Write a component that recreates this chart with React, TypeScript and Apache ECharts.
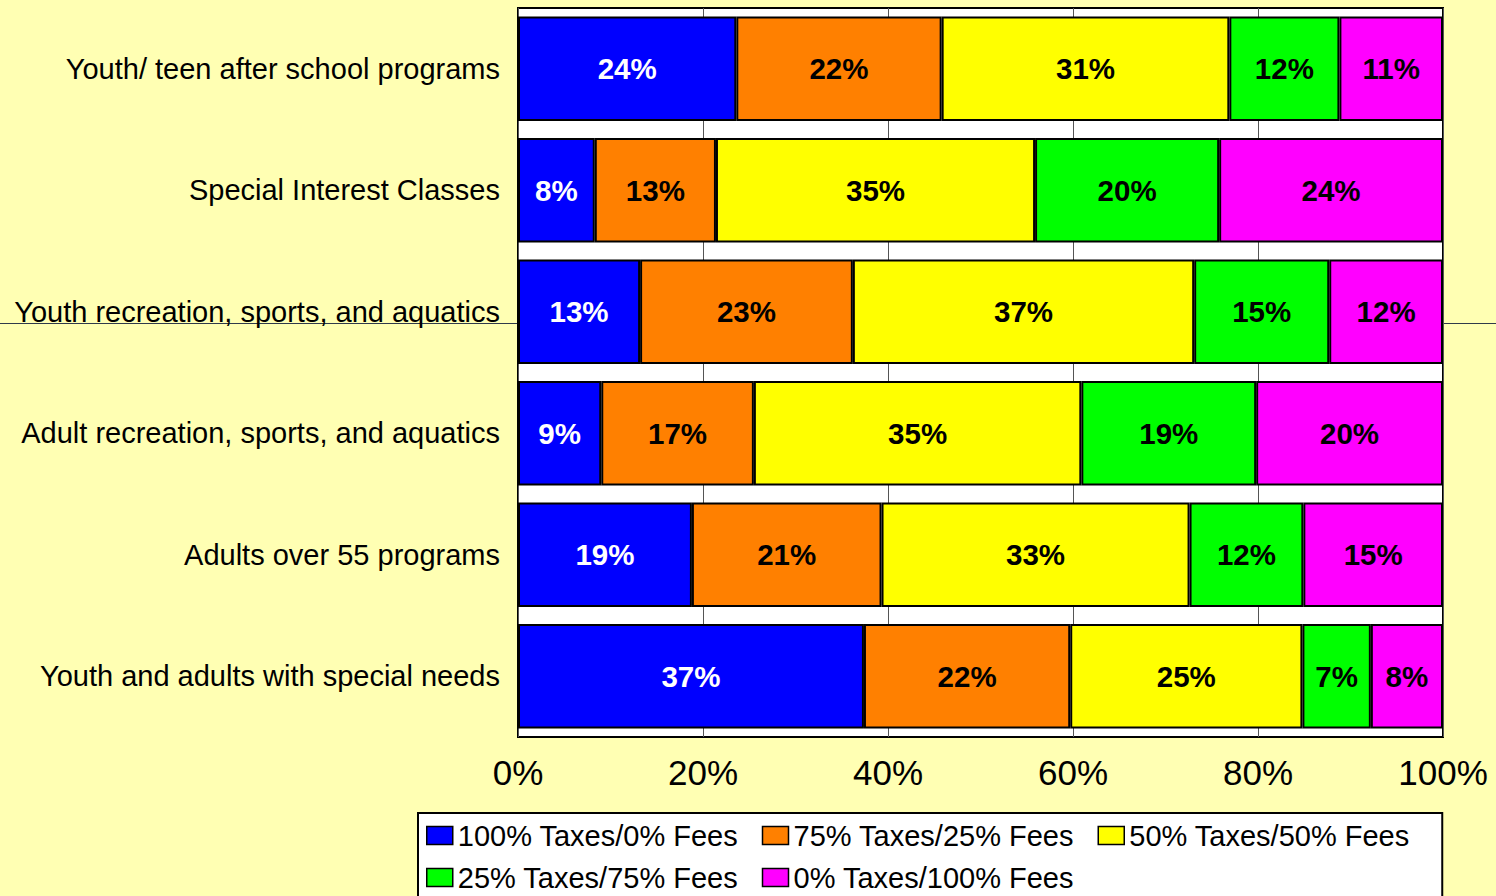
import React, { useEffect, useRef } from "react";
import * as echarts from "echarts";

const categories = [
  "Youth/ teen after school programs",
  "Special Interest Classes",
  "Youth recreation, sports, and aquatics",
  "Adult recreation, sports, and aquatics",
  "Adults over 55 programs",
  "Youth and adults with special needs",
];

const seriesNames = [
  "100% Taxes/0% Fees",
  "75% Taxes/25% Fees",
  "50% Taxes/50% Fees",
  "25% Taxes/75% Fees",
  "0% Taxes/100% Fees",
];

const taxes100 = [23.6, 8.3, 13.2, 9.0, 18.8, 37.4];
const taxes75 = [22.2, 13.1, 23.0, 16.5, 20.5, 22.3];
const taxes50 = [31.1, 34.5, 36.9, 35.4, 33.3, 25.1];
const taxes25 = [11.9, 19.9, 14.6, 18.9, 12.3, 7.4];
const taxes0 = [11.2, 24.2, 12.3, 20.2, 15.1, 7.8];

const colors = ["#0000FF", "#FF8000", "#FFFF00", "#00FF00", "#FF00FF"];
const labelColors = ["#FFFFFF", "#000000", "#000000", "#000000", "#000000"];

const xTicks = [0, 20, 40, 60, 80, 100];

export default function App() {
  const ref = useRef<HTMLDivElement>(null);
  useEffect(() => {
    if (!ref.current) return;
    const chart = echarts.init(ref.current, null, { renderer: "svg" });
    const allData = [taxes100, taxes75, taxes50, taxes25, taxes0];
    chart.setOption({
      animation: false,
      backgroundColor: "#FFFFB3",
      textStyle: { fontFamily: "Liberation Sans, Arial, sans-serif" },
      grid: {
        left: 518,
        right: 53,
        top: 8,
        bottom: 159,
        show: true,
        backgroundColor: "#FFFFFF",
        borderColor: "#000000",
        borderWidth: 2,
        containLabel: false,
      },
      graphic: [
        {
          type: "line",
          shape: { x1: 0, y1: 323.5, x2: 517, y2: 323.5 },
          style: { stroke: "#2F3A4A", lineWidth: 1 },
          z: -1,
        },
        {
          type: "line",
          shape: { x1: 1444, y1: 323.5, x2: 1496, y2: 323.5 },
          style: { stroke: "#2F3A4A", lineWidth: 1 },
          z: -1,
        },
      ],
      xAxis: {
        type: "value",
        min: xTicks[0],
        max: xTicks[xTicks.length - 1],
        interval: 20,
        axisLine: { show: false },
        axisTick: { show: false },
        splitLine: { show: true, lineStyle: { color: "#555555", width: 1 } },
        axisLabel: {
          formatter: (v: number) => v + "%",
          fontSize: 35,
          color: "#000000",
          margin: 18,
          fontFamily: "Liberation Sans, Arial, sans-serif",
        },
      },
      yAxis: {
        type: "category",
        data: categories,
        inverse: true,
        axisLine: { show: false },
        axisTick: { show: false },
        axisLabel: {
          fontSize: 29,
          color: "#000000",
          margin: 18,
          fontFamily: "Liberation Sans, Arial, sans-serif",
        },
      },
      legend: {
        data: seriesNames,
        orient: "horizontal",
        left: 418,
        top: 813,
        width: 1020,
        itemWidth: 26,
        itemHeight: 18,
        itemGap: 5,
        padding: [4, 14, 40, 8],
        backgroundColor: "#FFFFFF",
        borderColor: "#000000",
        borderWidth: 2,
        borderRadius: 0,
        icon: "rect",
        itemStyle: { borderColor: "#000000", borderWidth: 1.5 },
        textStyle: {
          fontSize: 29,
          color: "#000000",
          width: 299,
          lineHeight: 37,
          fontFamily: "Liberation Sans, Arial, sans-serif",
        },
      },
      series: seriesNames.map((name, i) => ({
        name,
        type: "bar",
        stack: "total",
        data: allData[i],
        barCategoryGap: "14%",
        itemStyle: { color: colors[i], borderColor: "#000000", borderWidth: 2 },
        label: {
          show: true,
          position: "inside",
          formatter: (p: any) => Math.round(p.value) + "%",
          color: labelColors[i],
          fontSize: 29.5,
          fontWeight: "bold",
          fontFamily: "Liberation Sans, Arial, sans-serif",
        },
      })),
    });
    return () => chart.dispose();
  }, []);
  return <div ref={ref} style={{ width: 1496, height: 896, position: "fixed", left: 0, top: 0 }} />;
}
